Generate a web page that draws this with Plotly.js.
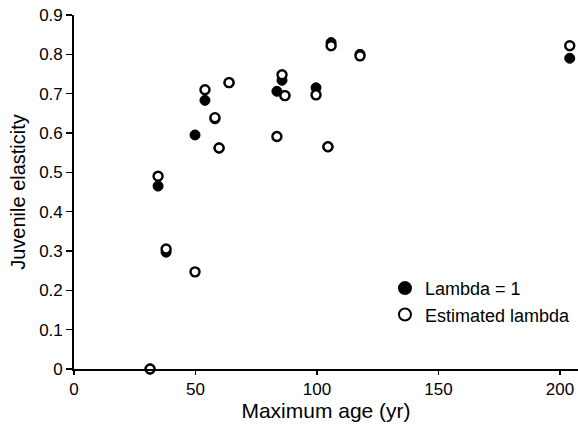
<!DOCTYPE html>
<html>
<head>
<meta charset="utf-8">
<script src="https://cdn.plot.ly/plotly-3.0.1.min.js"></script>
<style>html,body{margin:0;padding:0;background:#fff;}#chart{width:578px;height:425px;}</style>
</head>
<body>
<div id="chart"></div>
<script>
// Maximum age (yr) of each species
const maxAge = [31.3, 34.6, 37.9, 49.8, 53.9, 58.0, 59.7, 63.8, 83.5, 85.6, 86.8, 99.6, 104.5, 105.8, 117.7, 204.0];
// Juvenile elasticity with lambda = 1
const lambdaOne = [0.0, 0.465, 0.297, 0.595, 0.683, 0.636, 0.562, 0.728, 0.706, 0.734, 0.695, 0.715, 0.565, 0.83, 0.80, 0.79];
// Juvenile elasticity with estimated lambda
const estimatedLambda = [0.0, 0.49, 0.305, 0.247, 0.71, 0.639, 0.562, 0.728, 0.591, 0.748, 0.695, 0.697, 0.565, 0.822, 0.796, 0.822];

const xTicks = [0, 50, 100, 150, 200];
const yTicks = [0, 0.1, 0.2, 0.3, 0.4, 0.5, 0.6, 0.7, 0.8, 0.9];
const yTickText = ['0', '0.1', '0.2', '0.3', '0.4', '0.5', '0.6', '0.7', '0.8', '0.9'];

const fam = 'Liberation Sans, Arial, sans-serif';

const traces = [
  {
    x: maxAge, y: lambdaOne, type: 'scatter', mode: 'markers', name: 'Lambda = 1',
    marker: {symbol: 'circle', size: 10, color: '#000', line: {color: '#000', width: 1}},
    cliponaxis: false
  },
  {
    x: maxAge, y: estimatedLambda, type: 'scatter', mode: 'markers', name: 'Estimated lambda',
    marker: {symbol: 'circle', size: 9, color: '#fff', line: {color: '#000', width: 2.4}},
    cliponaxis: false
  }
];

const layout = {
  width: 578, height: 425,
  margin: {l: 74, r: 0, t: 15, b: 56},
  paper_bgcolor: '#fff', plot_bgcolor: '#fff',
  font: {family: fam, color: '#000', size: 17},
  showlegend: true,
  legend: {x: 0.617, y: 0.28, xanchor: 'left', yanchor: 'top', bgcolor: 'rgba(0,0,0,0)',
           font: {family: fam, size: 18, color: '#000'}, itemsizing: 'constant', tracegroupgap: 0},
  xaxis: {
    range: [0, 207.4], tickvals: xTicks, ticktext: xTicks.map(String),
    showgrid: false, zeroline: false, showline: true, linecolor: '#000', linewidth: 1.8,
    ticks: 'outside', ticklen: 4, tickwidth: 1.5, tickcolor: '#000',
    tickfont: {family: fam, size: 17, color: '#000'}, automargin: true,
    title: {text: 'Maximum age (yr)', font: {family: fam, size: 21, color: '#000'}, standoff: 2}
  },
  yaxis: {
    range: [0, 0.9], tickvals: yTicks, ticktext: yTickText,
    showgrid: false, zeroline: false, showline: true, linecolor: '#000', linewidth: 1.8,
    ticks: 'outside', ticklen: 6, tickwidth: 1.5, tickcolor: '#000',
    tickfont: {family: fam, size: 17, color: '#000'},
    title: {text: 'Juvenile elasticity', font: {family: fam, size: 20, color: '#000'}, standoff: 8}
  }
};

Plotly.newPlot('chart', traces, layout, {staticPlot: true, displayModeBar: false});
</script>
</body>
</html>
